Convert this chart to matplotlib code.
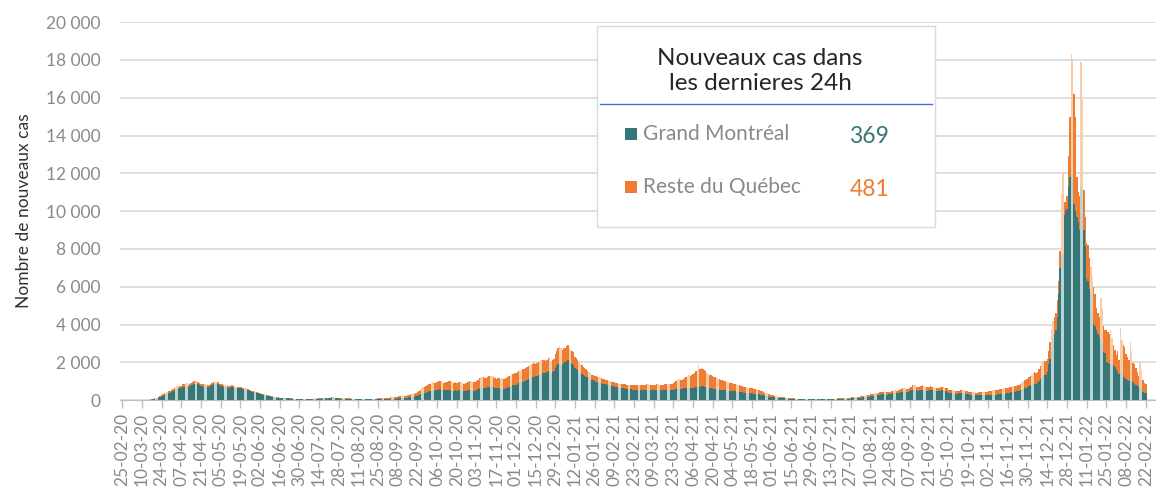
import numpy as np
import pandas as pd
import matplotlib
matplotlib.use("Agg")
import matplotlib.pyplot as plt
from matplotlib.patches import Rectangle
from matplotlib.lines import Line2D

plt.rcParams["font.family"] = ["Lato", "DejaVu Sans"]

# nouveaux cas par jour, une ligne = une semaine (début 25-02-2020)
montreal = [
    0, 0, 0, 1, 0, 0, 1,
    1, 1, 2, 2, 3, 3, 4,
    5, 7, 9, 12, 15, 20, 25,
    35, 45, 60, 80, 100, 120, 150,
    200, 240, 280, 310, 330, 360, 390,
    420, 480, 520, 560, 600, 580, 620,
    650, 700, 720, 740, 760, 700, 720,
    780, 820, 860, 880, 900, 850, 800,
    740, 760, 720, 750, 760, 720, 700,
    760, 800, 830, 860, 870, 840, 780,
    760, 740, 720, 700, 720, 680, 660,
    680, 700, 690, 660, 650, 640, 620,
    640, 620, 600, 590, 560, 540, 520,
    480, 450, 440, 420, 400, 380, 360,
    320, 300, 290, 270, 250, 230, 220,
    200, 180, 170, 160, 150, 140, 130,
    120, 110, 110, 100, 100, 90, 90,
    90, 80, 80, 70, 70, 60, 60,
    60, 55, 50, 50, 50, 45, 50,
    55, 60, 60, 65, 70, 65, 70,
    75, 80, 85, 90, 95, 90, 85,
    95, 100, 110, 120, 110, 100, 95,
    90, 85, 80, 80, 75, 70, 70,
    70, 65, 60, 60, 55, 55, 50,
    50, 50, 45, 45, 45, 40, 40,
    40, 40, 45, 45, 40, 40, 45,
    50, 55, 55, 60, 55, 55, 60,
    65, 70, 75, 80, 80, 75, 80,
    90, 100, 110, 115, 120, 110, 120,
    130, 150, 170, 180, 190, 180, 200,
    220, 260, 300, 340, 370, 360, 400,
    430, 460, 480, 500, 520, 500, 520,
    540, 560, 580, 560, 540, 520, 540,
    540, 560, 560, 540, 520, 500, 520,
    500, 520, 540, 520, 500, 480, 500,
    500, 520, 530, 540, 520, 500, 500,
    560, 600, 640, 660, 680, 660, 640,
    660, 700, 720, 700, 700, 680, 660,
    620, 640, 620, 600, 620, 600, 580,
    640, 660, 700, 720, 760, 780, 800,
    820, 860, 900, 940, 960, 980, 1000,
    1020, 1060, 1100, 1140, 1180, 1200, 1240,
    1260, 1300, 1340, 1380, 1400, 1420, 1440,
    1460, 1500, 1550, 1600, 1450, 1500, 1550,
    1700, 1800, 1900, 2000, 1900, 1850, 1950,
    2000, 2050, 2100, 2000, 1950, 1900, 1850,
    1700, 1650, 1600, 1500, 1450, 1400, 1350,
    1300, 1250, 1200, 1150, 1100, 1050, 1050,
    1000, 980, 960, 950, 920, 900, 880,
    860, 840, 820, 800, 780, 760, 740,
    720, 700, 680, 660, 660, 640, 640,
    620, 610, 600, 590, 580, 570, 560,
    560, 560, 550, 550, 540, 540, 540,
    540, 550, 560, 560, 550, 540, 540,
    540, 550, 560, 560, 550, 540, 540,
    530, 540, 550, 540, 530, 520, 520,
    540, 560, 580, 600, 620, 600, 610,
    620, 630, 640, 650, 640, 620, 620,
    640, 660, 700, 720, 800, 720, 740,
    740, 720, 700, 680, 660, 640, 640,
    620, 600, 600, 580, 560, 560, 540,
    540, 530, 520, 510, 500, 490, 480,
    480, 470, 460, 450, 440, 430, 420,
    420, 400, 390, 380, 370, 360, 350,
    360, 350, 340, 330, 320, 300, 290,
    280, 260, 240, 220, 200, 190, 180,
    170, 160, 150, 140, 130, 120, 110,
    105, 100, 95, 90, 85, 80, 75,
    70, 66, 62, 58, 55, 52, 50,
    50, 48, 46, 45, 44, 42, 40,
    40, 40, 38, 38, 36, 36, 35,
    36, 38, 40, 40, 42, 42, 44,
    46, 48, 50, 52, 54, 56, 58,
    60, 64, 68, 72, 76, 80, 84,
    88, 92, 96, 100, 106, 110, 116,
    130, 140, 150, 160, 170, 180, 190,
    200, 220, 240, 250, 260, 270, 280,
    290, 300, 310, 320, 300, 290, 300,
    320, 340, 360, 380, 370, 360, 370,
    400, 420, 440, 460, 450, 430, 440,
    480, 520, 560, 580, 560, 520, 500,
    520, 540, 560, 540, 520, 500, 500,
    520, 540, 520, 500, 480, 470, 460,
    480, 500, 520, 500, 480, 460, 450,
    400, 390, 380, 370, 360, 350, 350,
    360, 370, 380, 370, 360, 350, 350,
    300, 290, 290, 280, 280, 270, 270,
    270, 270, 260, 260, 260, 250, 250,
    260, 260, 270, 270, 280, 280, 290,
    300, 310, 320, 330, 340, 350, 360,
    380, 400, 420, 440, 460, 450, 460,
    480, 500, 520, 560, 600, 620, 640,
    720, 760, 800, 820, 860, 880, 860,
    900, 1000, 1100, 1200, 1300, 1350, 1350,
    1500, 1900, 2200, 2600, 3300, 3500, 3700,
    4400, 5600, 7000, 7700, 7800, 9800, 10000,
    10100, 11300, 11800, 12200, 12000, 10400, 10000,
    9700, 9400, 9000, 11300, 10500, 9000, 8100,
    6400, 6300, 5900, 5650, 4500, 4050, 3900,
    3700, 3500, 3350, 3200, 3000, 2550, 2500,
    2000, 1950, 1900, 2000, 1850, 1850, 1760,
    1600, 1500, 1400, 1600, 1400, 1250, 1230,
    1100, 1050, 1000, 1200, 1050, 950, 880,
    800, 750, 700, 880, 700, 440, 400,
    369,
]

reste = [
    0, 0, 0, 0, 0, 1, 0,
    0, 1, 1, 1, 2, 2, 3,
    3, 4, 6, 8, 10, 14, 18,
    20, 25, 30, 40, 50, 60, 70,
    70, 80, 90, 95, 100, 110, 120,
    110, 120, 130, 130, 140, 130, 140,
    120, 130, 130, 140, 130, 120, 120,
    120, 130, 130, 140, 130, 120, 110,
    110, 100, 110, 100, 100, 90, 100,
    100, 110, 110, 120, 110, 100, 100,
    100, 90, 90, 90, 90, 80, 80,
    80, 80, 80, 70, 70, 70, 70,
    70, 70, 60, 60, 60, 50, 50,
    50, 50, 40, 40, 40, 40, 40,
    40, 35, 35, 30, 30, 30, 30,
    30, 25, 25, 25, 20, 20, 20,
    20, 20, 20, 15, 15, 15, 15,
    15, 15, 15, 10, 10, 10, 10,
    10, 10, 10, 10, 10, 10, 10,
    15, 15, 20, 20, 20, 20, 25,
    25, 25, 30, 30, 30, 30, 30,
    35, 40, 40, 45, 40, 35, 35,
    35, 30, 30, 30, 30, 25, 25,
    25, 25, 25, 20, 20, 20, 20,
    20, 25, 25, 30, 30, 30, 30,
    30, 30, 35, 35, 35, 30, 35,
    40, 45, 50, 55, 50, 50, 55,
    60, 70, 75, 80, 80, 75, 80,
    90, 100, 110, 120, 120, 110, 120,
    120, 130, 150, 160, 170, 160, 180,
    200, 230, 260, 290, 320, 320, 350,
    350, 380, 400, 420, 420, 400, 400,
    420, 440, 460, 440, 420, 400, 420,
    420, 440, 460, 440, 420, 400, 420,
    400, 420, 440, 440, 420, 400, 400,
    420, 450, 460, 470, 460, 440, 440,
    460, 480, 520, 540, 560, 540, 520,
    520, 540, 560, 560, 560, 540, 520,
    520, 540, 560, 540, 560, 540, 520,
    540, 560, 580, 580, 600, 600, 620,
    600, 620, 640, 640, 660, 660, 660,
    660, 680, 700, 700, 720, 720, 740,
    640, 660, 680, 700, 700, 700, 700,
    620, 640, 660, 700, 600, 620, 650,
    750, 800, 850, 880, 850, 800, 820,
    780, 800, 800, 760, 720, 700, 680,
    600, 560, 520, 480, 460, 440, 420,
    400, 380, 360, 340, 320, 300, 300,
    300, 290, 280, 270, 260, 250, 250,
    250, 250, 240, 240, 230, 220, 220,
    220, 220, 210, 210, 200, 200, 200,
    210, 220, 220, 230, 230, 230, 230,
    230, 240, 240, 250, 250, 250, 260,
    260, 260, 270, 270, 260, 260, 260,
    260, 270, 280, 280, 270, 260, 260,
    280, 300, 320, 330, 330, 320, 330,
    360, 400, 430, 460, 480, 470, 480,
    500, 540, 580, 640, 680, 660, 700,
    720, 760, 820, 900, 1050, 920, 940,
    920, 880, 820, 780, 740, 700, 680,
    660, 640, 620, 600, 580, 560, 540,
    520, 500, 480, 470, 460, 440, 440,
    420, 410, 400, 380, 360, 350, 340,
    330, 320, 310, 300, 290, 280, 270,
    270, 260, 250, 240, 230, 220, 210,
    200, 180, 160, 140, 130, 120, 110,
    100, 95, 90, 80, 70, 65, 60,
    55, 50, 48, 45, 42, 40, 38,
    36, 34, 32, 30, 28, 26, 25,
    25, 24, 23, 22, 22, 21, 20,
    20, 20, 20, 20, 20, 20, 20,
    22, 22, 24, 24, 26, 26, 28,
    28, 30, 30, 32, 32, 34, 34,
    36, 38, 40, 42, 44, 46, 48,
    50, 52, 55, 58, 60, 62, 65,
    70, 75, 80, 85, 90, 95, 100,
    100, 105, 110, 115, 120, 120, 125,
    125, 130, 135, 140, 130, 125, 130,
    130, 140, 150, 160, 150, 145, 150,
    160, 170, 180, 190, 180, 170, 170,
    180, 200, 230, 240, 220, 200, 190,
    200, 210, 220, 210, 200, 190, 190,
    200, 210, 200, 190, 180, 180, 170,
    180, 190, 200, 190, 180, 170, 170,
    150, 150, 145, 145, 140, 140, 135,
    140, 145, 150, 150, 145, 140, 140,
    140, 140, 140, 135, 135, 130, 130,
    140, 150, 150, 160, 160, 160, 160,
    220, 230, 240, 250, 250, 250, 260,
    260, 270, 280, 280, 290, 290, 300,
    280, 290, 300, 300, 310, 300, 300,
    300, 320, 340, 380, 420, 440, 460,
    420, 460, 500, 520, 560, 600, 580,
    600, 640, 700, 740, 760, 740, 700,
    700, 700, 900, 1100, 900, 900, 900,
    900, 700, 900, 3200, 4200, 700, 500,
    700, 1600, 3200, 6100, 6000, 5800, 5000,
    2100, 1600, 1800, 6600, 5500, 2100, 1600,
    1900, 1900, 1600, 1400, 2000, 1950, 1700,
    1200, 1100, 1050, 2200, 1800, 1350, 1200,
    1700, 1650, 1600, 1700, 1450, 1050, 890,
    800, 1100, 700, 2200, 1800, 1650, 1570,
    1350, 1250, 1100, 1900, 1550, 1000, 1020,
    900, 750, 600, 1120, 900, 620, 500,
    481,
]

debut = pd.Timestamp("2020-02-25")
derniers = {"Grand Montréal": 369, "Reste du Québec": 481}

teal, teal_pale = "#367676", "#b7d3d5"
orange, orange_pale = "#ee7d31", "#f8cdaa"
gris = "#898989"

jours = np.arange(len(montreal))
# deux jours pâles par semaine
pale = (jours % 7 == 3) | (jours % 7 == 4)
m = np.array(montreal)
r = np.array(reste)

fig = plt.figure(figsize=(11.56, 4.91), dpi=100)
ax = fig.add_axes([0.104, 0.185, 0.8957, 0.77])

ax.bar(jours, m, width=1.0, color=np.where(pale, teal_pale, teal), linewidth=0, zorder=2)
ax.bar(jours, r, bottom=m, width=1.0, color=np.where(pale, orange_pale, orange), linewidth=0, zorder=2)

ax.set_xlim(-1.4, 735)
ax.set_ylim(0, 20000)

yt = np.arange(0, 20001, 2000)
ax.set_yticks(yt)
ax.set_yticklabels([f"{v:,}".replace(",", " ") for v in yt], color=gris, fontsize=12.5)
ax.yaxis.grid(True, color="#d9d9d9", linewidth=1.2, zorder=0)
ax.set_axisbelow(True)

xt = np.arange(0, len(montreal), 14)
ax.set_xticks(xt)
ax.set_xticklabels([(debut + pd.Timedelta(days=int(d))).strftime("%d-%m-%y") for d in xt],
                   rotation=90, color=gris, fontsize=12.5)
ax.tick_params(axis="y", length=0, pad=14)
ax.tick_params(axis="x", length=6, color="#bfbfbf", width=1, pad=3)

for s in ["top", "right", "left"]:
    ax.spines[s].set_visible(False)
ax.spines["bottom"].set_color("#bfbfbf")

ax.set_ylabel("Nombre de nouveaux cas", fontsize=12.5, color="#333333", labelpad=10)

# encadré des dernières 24h
fig.add_artist(Rectangle((0.5164, 0.5377), 0.2924, 0.4094, transform=fig.transFigure,
                         facecolor="white", edgecolor="#d9d9d9", linewidth=1, zorder=5))
fig.text(0.6574, 0.855, "Nouveaux cas dans\nles dernieres 24h", ha="center", va="center",
         fontsize=17.5, color="#262626", linespacing=1.25, zorder=6)
fig.add_artist(Line2D([0.519, 0.806], [0.788, 0.788], transform=fig.transFigure,
                      color="#4472c4", linewidth=1, zorder=6))

lignes = [(0.727, teal), (0.620, orange)]
for (nom, val), (yy, c) in zip(derniers.items(), lignes):
    fig.add_artist(Rectangle((0.5405, yy - 0.013), 0.0105, 0.025, transform=fig.transFigure,
                             facecolor=c, edgecolor="none", zorder=6))
    fig.text(0.556, yy, nom, ha="left", va="center", fontsize=15, color=gris, zorder=6)
    fig.text(0.752, yy - 0.005, str(val), ha="center", va="center", fontsize=16.5,
             color=c, zorder=6)

fig.savefig("out.png", dpi=100)
